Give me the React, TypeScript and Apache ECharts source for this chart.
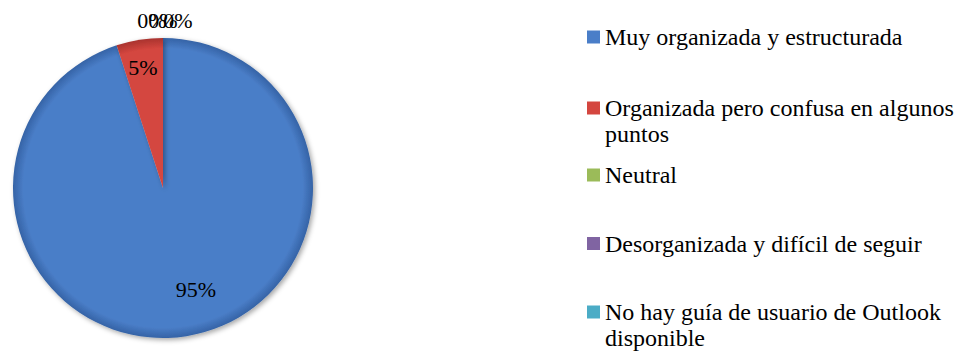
import { useEffect, useRef } from "react";
import * as echarts from "echarts";

// Survey answers and their share of respondents (%)
const categories = [
  "Muy organizada y estructurada",
  "Organizada pero confusa en algunos puntos",
  "Neutral",
  "Desorganizada y difícil de seguir",
  "No hay guía de usuario de Outlook disponible",
];
const shares = [95, 5, 0, 0, 0];

// Legend text, wrapped the way the legend column shows it.
// Wrapped entries start with an empty line so that their first line
// sits level with the swatch (legend text is centred on the swatch).
const legendLines = [
  "Muy organizada y estructurada",
  "\nOrganizada pero confusa en algunos\npuntos",
  "Neutral",
  "Desorganizada y difícil de seguir",
  "\nNo hay guía de usuario de Outlook\ndisponible",
];

const sliceColors = ["#4a7ec8", "#d4463f", "#9bbb59", "#8064a2", "#4bacc6"];
const rimColors = ["#3563a6", "#a9332e", "#76913f", "#5f4a7d", "#35849a"];

const FONT = "Liberation Serif";
const PIE_CX = 163;
const PIE_CY = 188;
const PIE_R = 150;

// Where each percentage label sits
const labelSpots: [number, number][] = [
  [196, 289],
  [143, 67],
  [152, 20],
  [163, 20],
  [178, 20],
];

// Vertical placement of each legend entry
const legendTops = [24, 69, 162, 230.5, 273];
const LINE_H = 26;

export default function App() {
  const ref = useRef<HTMLDivElement>(null);

  useEffect(() => {
    if (!ref.current) return;
    const chart = echarts.init(ref.current, undefined, { renderer: "svg" });

    const data = categories.map((name, i) => ({
      name,
      value: shares[i],
      itemStyle: {
        color: {
          type: "radial",
          x: PIE_CX,
          y: PIE_CY,
          r: PIE_R,
          global: true,
          colorStops: [
            { offset: 0, color: sliceColors[i] },
            { offset: 0.93, color: sliceColors[i] },
            { offset: 1, color: rimColors[i] },
          ],
        },
      },
    }));

    const legends = categories.map((name, i) => ({
      data: [{ name, itemStyle: { color: sliceColors[i] } }],
      orient: "vertical",
      left: 587,
      top: legendTops[i],
      padding: 0,
      itemWidth: 13,
      itemHeight: 13,
      icon: "rect",
      selectedMode: false,
      formatter: () => legendLines[i],
      textStyle: {
        fontFamily: FONT,
        fontSize: 24,
        color: "#000",
        lineHeight: LINE_H,
      },
    }));

    chart.setOption({
      animation: false,
      backgroundColor: "#fff",
      legend: legends,
      series: [
        {
          type: "pie",
          center: [PIE_CX, PIE_CY],
          radius: PIE_R,
          startAngle: 90,
          clockwise: true,
          avoidLabelOverlap: false,
          minShowLabelAngle: 0,
          data,
          itemStyle: {
            shadowBlur: 5,
            shadowOffsetX: 2,
            shadowOffsetY: 2,
            shadowColor: "rgba(0,0,0,0.35)",
          },
          label: {
            show: true,
            position: "inside",
            formatter: "{d}%",
            fontFamily: FONT,
            fontSize: 22,
            color: "#000",
          },
          labelLine: { show: false },
          labelLayout: (params: any) => {
            const spot = labelSpots[params.dataIndex];
            return {
              x: spot[0],
              y: spot[1],
              align: "center",
              verticalAlign: "middle",
            };
          },
          emphasis: { disabled: true },
        },
      ],
    });

    return () => chart.dispose();
  }, []);

  return (
    <div
      ref={ref}
      style={{ position: "fixed", left: 0, top: 0, width: 960, height: 351 }}
    />
  );
}
